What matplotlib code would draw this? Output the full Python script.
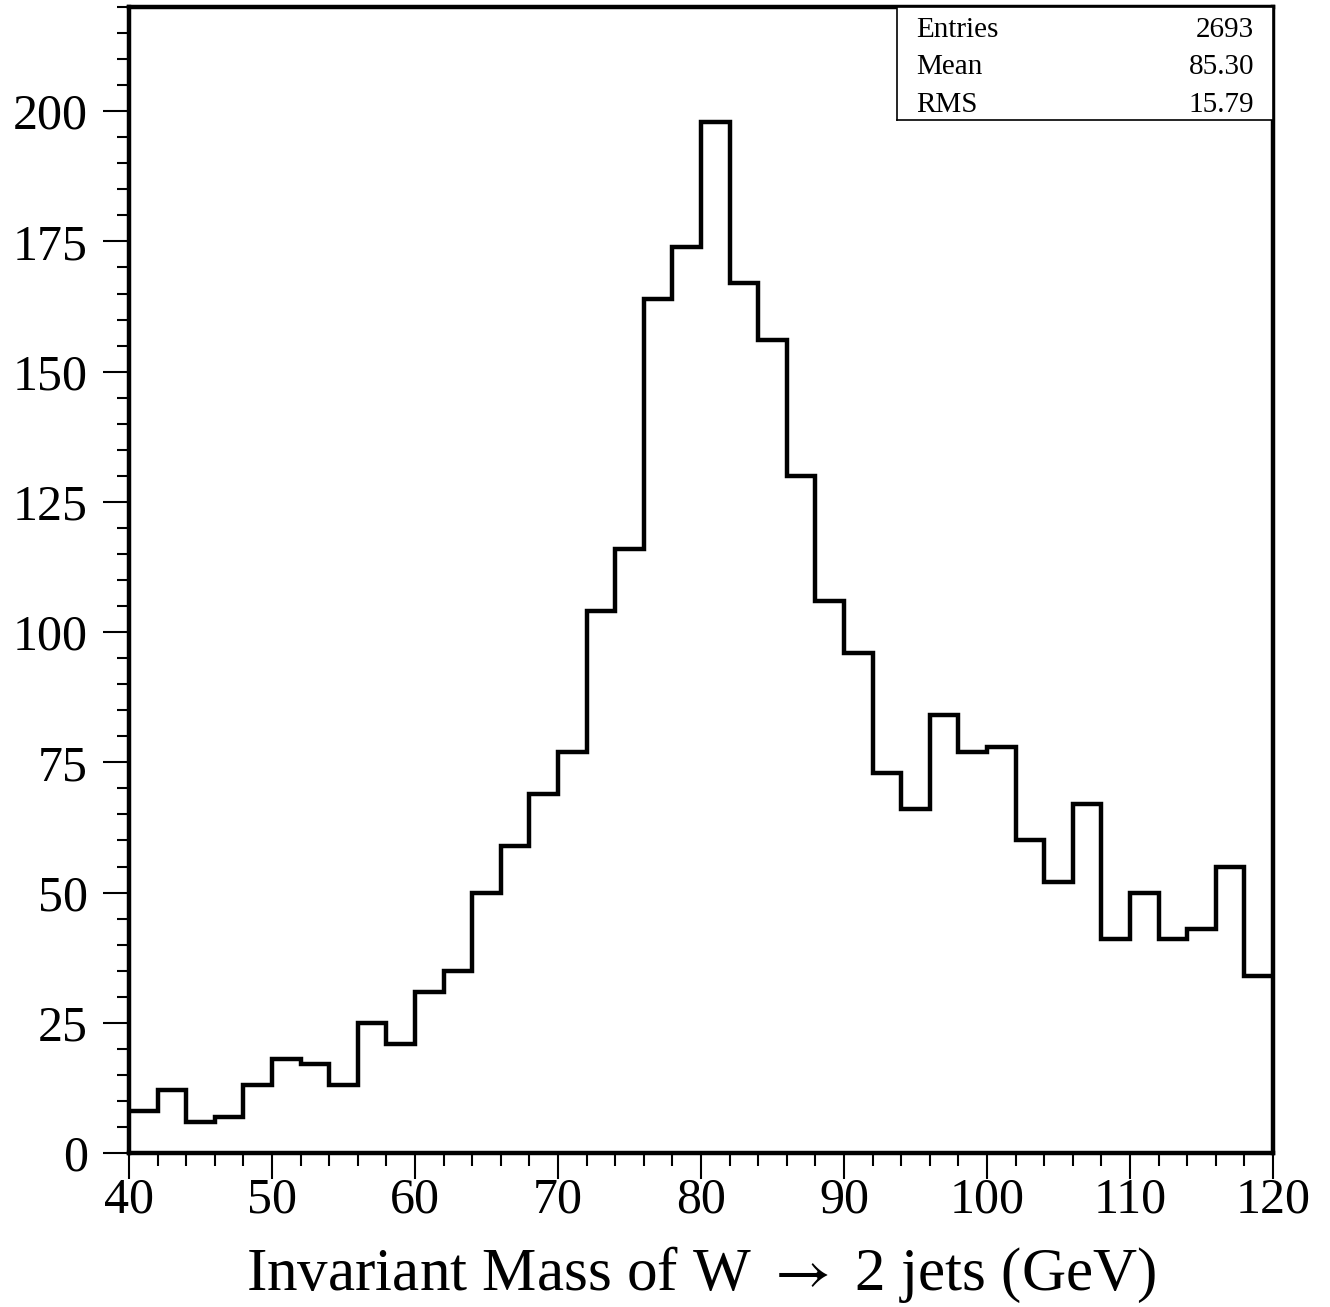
import numpy as np
import matplotlib
matplotlib.use("Agg")
import matplotlib.pyplot as plt
from matplotlib.ticker import MultipleLocator

plt.rcParams['font.family'] = ['Liberation Serif', 'DejaVu Serif']
plt.rcParams['mathtext.fontset'] = 'stix'

bin_edges = list(range(40, 122, 2))
counts = [8, 12, 6, 7, 13, 18, 17, 13, 25, 21,
          31, 35, 50, 59, 69, 77, 104, 116, 164, 174,
          198, 167, 156, 130, 106, 96, 73, 66, 84, 77,
          78, 60, 52, 67, 41, 50, 41, 43, 55, 34]
stat_labels = ["Entries", "Mean", "RMS"]
stat_values = ["2693", "85.30", "15.79"]
xlabel = "Invariant Mass of W $\\rightarrow$ 2 jets (GeV)"

W, H = 1330, 1307
fig = plt.figure(figsize=(W / 100, H / 100), dpi=100)
L, R, T, B = 129, 1273, 7, 1153
ax = fig.add_axes([L / W, 1 - B / H, (R - L) / W, (B - T) / H])

ax.stairs(counts, bin_edges, color='black', linewidth=3.2, baseline=None)
ax.set_xlim(40, 120)
ax.set_ylim(0, 220)

ax.xaxis.set_major_locator(MultipleLocator(10))
ax.xaxis.set_minor_locator(MultipleLocator(2))
ax.yaxis.set_major_locator(MultipleLocator(25))
ax.yaxis.set_minor_locator(MultipleLocator(5))
ax.tick_params(which='major', direction='out', length=19, width=1.5, labelsize=36)
ax.tick_params(which='minor', direction='out', length=9, width=1.5)
ax.tick_params(axis='x', which='major', pad=-2)
ax.tick_params(axis='y', which='major', pad=10.5)
for s in ax.spines.values():
    s.set_linewidth(3.2)

ax.set_xlabel(xlabel, fontsize=44, labelpad=15.5)

# stats box
bx0, bx1, by0, by1 = 897, 1273, 7, 120
sax = fig.add_axes([bx0 / W, 1 - by1 / H, (bx1 - bx0) / W, (by1 - by0) / H])
sax.set_xlim(0, 1)
sax.set_ylim(0, 1)
sax.set_xticks([])
sax.set_yticks([])
for s in sax.spines.values():
    s.set_linewidth(1.2)
row_pos = [0.798, 0.465, 0.133]
for yc, lab, val in zip(row_pos, stat_labels, stat_values):
    sax.text(0.05, yc, lab, fontsize=21, ha='left', va='center')
    sax.text(0.95, yc, val, fontsize=21, ha='right', va='center')

fig.savefig("out.png", dpi=100)
